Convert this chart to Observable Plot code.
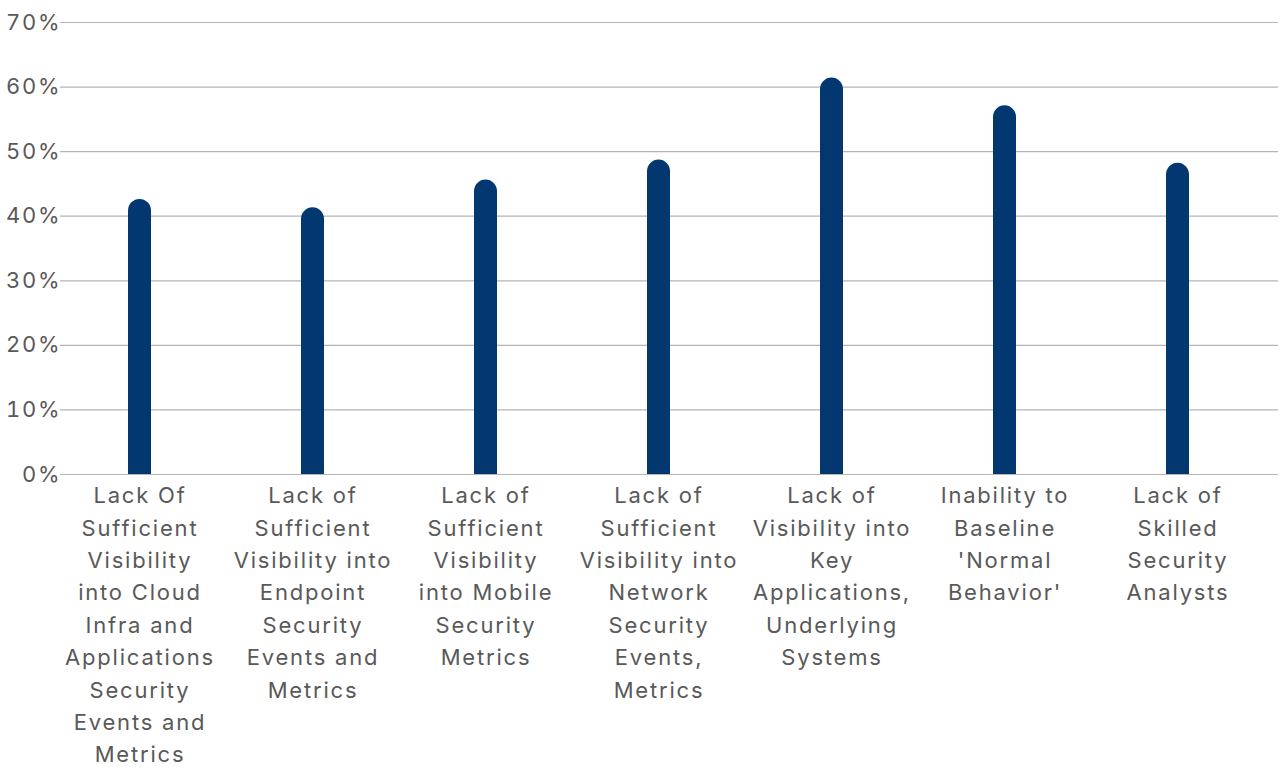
<!DOCTYPE html>
<html>
<head>
<meta charset="utf-8">
<script src="https://cdn.jsdelivr.net/npm/d3@7"></script>
<script src="https://cdn.jsdelivr.net/npm/@observablehq/plot@0.6"></script>
<style>
  html, body { margin: 0; padding: 0; background: #fff; }
  #chart svg { display: block; }
</style>
</head>
<body>
<div id="chart"></div>
<script>
// Share of respondents naming each challenge (%)
const categories = [
  "Lack Of Sufficient Visibility into Cloud Infra and Applications Security Events and Metrics",
  "Lack of Sufficient Visibility into Endpoint Security Events and Metrics",
  "Lack of Sufficient Visibility into Mobile Security Metrics",
  "Lack of Sufficient Visibility into Network Security Events, Metrics",
  "Lack of Visibility into Key Applications, Underlying Systems",
  "Inability to Baseline 'Normal Behavior'",
  "Lack of Skilled Security Analysts"
];
const values = [42.6, 41.3, 45.6, 48.7, 61.4, 57.1, 48.2];

// Wrapped tick labels, one line per row
const tickLabels = [
  "Lack Of\nSufficient\nVisibility\ninto Cloud\nInfra and\nApplications\nSecurity\nEvents and\nMetrics",
  "Lack of\nSufficient\nVisibility into\nEndpoint\nSecurity\nEvents and\nMetrics",
  "Lack of\nSufficient\nVisibility\ninto Mobile\nSecurity\nMetrics",
  "Lack of\nSufficient\nVisibility into\nNetwork\nSecurity\nEvents,\nMetrics",
  "Lack of\nVisibility into\nKey\nApplications,\nUnderlying\nSystems",
  "Inability to\nBaseline\n'Normal\nBehavior'",
  "Lack of\nSkilled\nSecurity\nAnalysts"
];
const yTicks = [0, 10, 20, 30, 40, 50, 60, 70];

const data = categories.map((c, i) => ({category: c, value: values[i], label: tickLabels[i]}));
const labelOf = new Map(data.map(d => [d.category, d.label]));

const barColor = "#023770";
const textColor = "#595959";
const gridColor = "#b4b4b4";
const barInset = 75;

const chart = Plot.plot({
  width: 1280,
  height: 767,
  marginTop: 22,
  marginLeft: 60,
  marginRight: 2,
  marginBottom: 293,
  style: {fontSize: "22px", fontFamily: "Inter, 'Noto Sans', sans-serif", letterSpacing: "1.8px", color: textColor, background: "#fff"},
  x: {domain: categories, padding: 0, range: [52, 1265]},
  y: {domain: [0, 70]},
  marks: [
    Plot.gridY(yTicks, {stroke: gridColor, strokeOpacity: 1, strokeWidth: 1.2}),
    // rounded-top bars: a fully rounded rect, with a square one hiding the lower corners
    Plot.barY(data, {x: "category", y: "value", fill: barColor, insetLeft: barInset, insetRight: barInset, rx: 11.7}),
    Plot.barY(data, {x: "category", y: d => d.value / 2, fill: barColor, insetLeft: barInset, insetRight: barInset}),
    Plot.axisY(yTicks, {tickSize: 0, tickPadding: -1, tickFormat: d => d + "%", fill: textColor, fontSize: 22, label: null}),
    Plot.axisX({tickSize: 0, tickPadding: 6, tickFormat: c => labelOf.get(c), fill: textColor, fontSize: 22, lineHeight: 1.47, lineAnchor: "top", label: null})
  ]
});
document.getElementById("chart").append(chart);
</script>
</body>
</html>
